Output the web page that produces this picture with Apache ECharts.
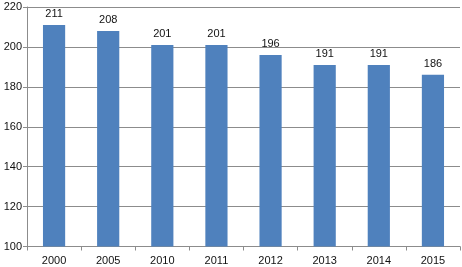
<!DOCTYPE html>
<html><head><meta charset="utf-8">
<script src="https://cdn.jsdelivr.net/npm/echarts@6/dist/echarts.min.js"></script>
<style>html,body{margin:0;padding:0;background:#fff}#c{width:462px;height:267px}</style>
</head><body><div id="c"></div>
<script>
const categories = ['2000','2005','2010','2011','2012','2013','2014','2015'];
const values = [211,208,201,201,196,191,191,186];
const yMin = 100, yMax = 220, yStep = 20;

const chart = echarts.init(document.getElementById('c'), null, {renderer:'canvas'});
const font = 'Liberation Sans';
chart.setOption({
  animation:false,
  backgroundColor:'#fff',
  grid:{left:27, right:2, top:7, bottom:20.5, containLabel:false},
  xAxis:{
    type:'category', data:categories,
    axisLine:{lineStyle:{color:'#8c8c8c', width:1}},
    axisTick:{show:true, interval:0, length:4, alignWithLabel:false, lineStyle:{color:'#8c8c8c'}},
    axisLabel:{color:'#111', fontSize:11, fontFamily:font, margin:9}
  },
  yAxis:{
    type:'value', min:yMin, max:yMax, interval:yStep,
    axisLine:{show:true, lineStyle:{color:'#8c8c8c', width:1}},
    axisTick:{show:true, length:4, inside:false, lineStyle:{color:'#8c8c8c'}},
    splitLine:{lineStyle:{color:'#8c8c8c', width:1}},
    axisLabel:{color:'#111', fontSize:11, fontFamily:font, margin:5}
  },
  series:[{
    type:'bar', data:values, barWidth:'41%',
    itemStyle:{color:'#4F81BD'},
    label:{show:true, position:'top', distance:5, color:'#111', fontSize:11, fontFamily:font}
  }]
});
</script></body></html>
